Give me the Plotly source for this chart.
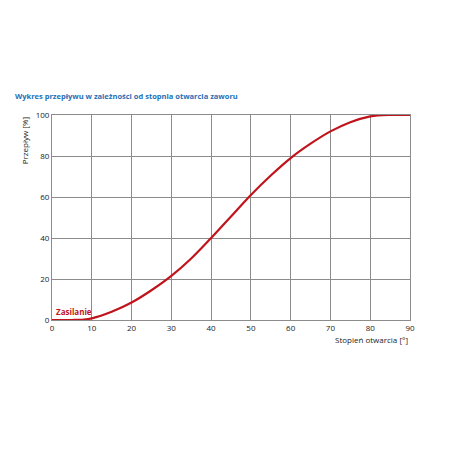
import plotly.graph_objects as go

# curve
angle = [0, 5, 8, 10, 15, 20, 25, 30, 35, 40, 45, 50, 55, 60, 65, 70, 75, 80, 82, 85, 90]
flow = [0, 0, 0.2, 0.8, 4, 8.5, 14.5, 21.5, 30, 40, 50.5, 61, 70.5, 79, 86, 92, 96.5, 99.3, 99.8, 100, 100]

x_ticks = [0, 10, 20, 30, 40, 50, 60, 70, 80, 90]
y_ticks = [0, 20, 40, 60, 80, 100]

red = "#c0141c"
grid = "#8c8c8c"

fig = go.Figure()
fig.add_trace(go.Scatter(x=angle, y=flow, mode="lines", line=dict(color=red, width=2.2, shape="spline"),
                         showlegend=False, hoverinfo="skip"))

fig.update_layout(
    width=450, height=450,
    margin=dict(l=44, r=48, t=107, b=138),
    plot_bgcolor="white", paper_bgcolor="white",
    font=dict(family="Open Sans", size=8, color="#222"),
    xaxis=dict(range=[0, 90], tickvals=x_ticks, showgrid=True, gridcolor=grid, gridwidth=1,
               showline=True, linecolor=grid, ticks="", zeroline=False),
    yaxis=dict(range=[0, 100], tickvals=y_ticks, showgrid=True, gridcolor=grid, gridwidth=1,
               showline=True, linecolor=grid, ticks="", zeroline=False, mirror=True),
)
fig.update_xaxes(mirror=True)

fig.add_annotation(text="<b>Wykres przepływu w zależności od stopnia otwarcia zaworu</b>",
                   xref="paper", yref="paper", x=-0.11, y=1.06, xanchor="left", yanchor="bottom",
                   showarrow=False, font=dict(size=7.5, color="#1f6fb5"))
fig.add_annotation(text="Przepływ [%]", xref="paper", yref="paper", x=-0.055, y=1.0,
                   xanchor="right", yanchor="top", textangle=-90, showarrow=False, font=dict(size=8))
fig.add_annotation(text="Stopień otwarcia [°]", xref="paper", yref="paper", x=1.0, y=-0.06,
                   xanchor="right", yanchor="top", showarrow=False, font=dict(size=8))
fig.add_annotation(text="<b>Zasilanie</b>", xref="x", yref="y", x=0.5, y=0.5,
                   xanchor="left", yanchor="bottom", showarrow=False, font=dict(size=8, color=red))

fig.write_html("out.html")
